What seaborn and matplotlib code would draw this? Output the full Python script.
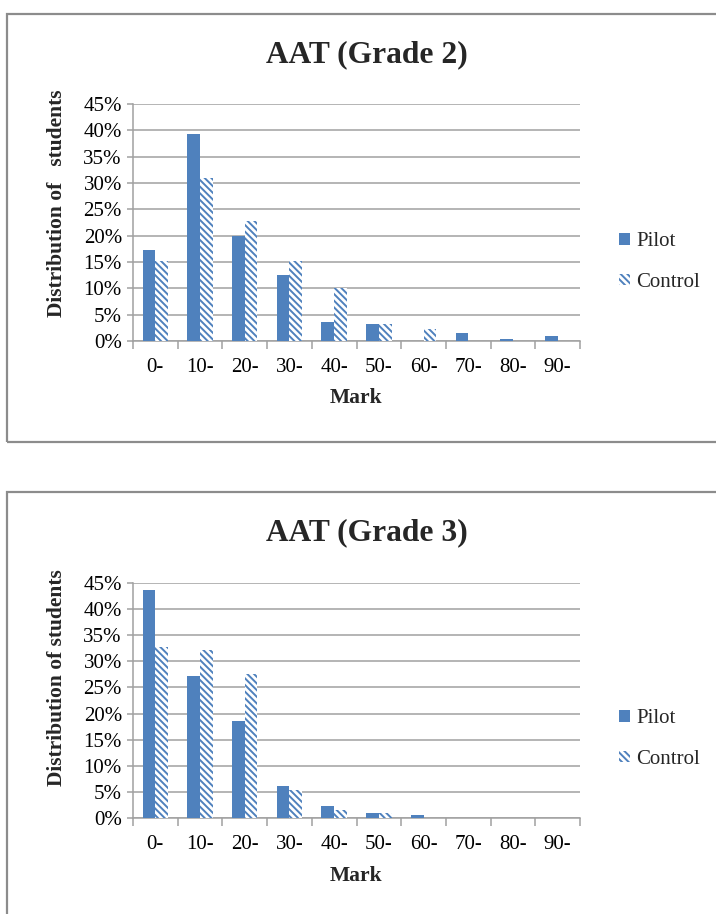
import numpy as np
import pandas as pd
import matplotlib
matplotlib.use("Agg")
import matplotlib.pyplot as plt
import seaborn as sns
from matplotlib.patches import Rectangle
from matplotlib.ticker import FuncFormatter, MultipleLocator, FixedLocator

# ---- data (percent of students) ----
marks = ["0-", "10-", "20-", "30-", "40-", "50-", "60-", "70-", "80-", "90-"]
groups = ["Pilot", "Control"]
g2_pilot = [17.3, 39.3, 20.0, 12.5, 3.7, 3.2, 0.0, 1.5, 0.45, 1.0]
g2_control = [15.1, 30.9, 22.8, 15.1, 10.0, 3.2, 2.2, 0.0, 0.0, 0.0]
g3_pilot = [43.7, 27.2, 18.6, 6.2, 2.3, 1.0, 0.6, 0.0, 0.0, 0.0]
g3_control = [32.8, 32.1, 27.5, 5.4, 1.6, 1.0, 0.0, 0.0, 0.0, 0.0]
titles = ["AAT (Grade 2)", "AAT (Grade 3)"]
ylabels = ["Distribution of   students", "Distribution of students"]
xlabel = "Mark"

BLUE = "#4F81BD"
GRID = "#A0A0A0"
SERIF = ["Liberation Serif", "DejaVu Serif"]

sns.set_theme(style="white")
plt.rcParams["font.family"] = SERIF
plt.rcParams["hatch.linewidth"] = 1.4

W, H = 716, 914
fig = plt.figure(figsize=(W / 100, H / 100), dpi=100)


def fx(px):
    return px / W


def fy(py):
    return 1 - py / H


# panel borders
for top, bottom in [(13.5, 442), (492, 930)]:
    fig.add_artist(Rectangle((fx(7.5), fy(bottom)), fx(720) - fx(7.5), fy(top) - fy(bottom),
                             transform=fig.transFigure, fill=False,
                             edgecolor="#8C8C8C", linewidth=1.6, zorder=0))

panels = [
    dict(pilot=g2_pilot, control=g2_control, top=104, bot=341, title_y=55,
         ylab_y=0.582, xlab_y=-0.24, leg_y=262),
    dict(pilot=g3_pilot, control=g3_control, top=582.7, bot=818.3, title_y=533,
         ylab_y=0.595, xlab_y=-0.245, leg_y=739),
]

for i, p in enumerate(panels):
    ax = fig.add_axes([fx(133), fy(p["bot"]), fx(580) - fx(133), fy(p["top"]) - fy(p["bot"])])
    df = pd.DataFrame({
        "Mark": marks * 2,
        "Value": list(p["pilot"]) + list(p["control"]),
        "Group": [groups[0]] * len(marks) + [groups[1]] * len(marks),
    })
    sns.barplot(data=df, x="Mark", y="Value", hue="Group", order=marks,
                hue_order=groups, palette=[BLUE, BLUE], width=0.57,
                saturation=1, legend=False, ax=ax, zorder=3)
    for patch in ax.containers[0]:
        patch.set_facecolor(BLUE)
        patch.set_edgecolor("none")
        patch.set_linewidth(0)
    for patch in ax.containers[1]:
        patch.set_facecolor("white")
        patch.set_hatch("\\\\\\\\\\")
        patch.set_edgecolor(BLUE)
        patch.set_linewidth(0)

    ax.set_ylim(0, 45)
    ax.set_xlim(-0.5, len(marks) - 0.5)
    ax.yaxis.set_major_locator(MultipleLocator(5))
    ax.yaxis.set_major_formatter(FuncFormatter(lambda v, pos: f"{v:.0f}%"))
    ax.grid(axis="y", color=GRID, linewidth=1.1, zorder=0)
    ax.set_axisbelow(True)
    for s in ["top", "right"]:
        ax.spines[s].set_visible(False)
    for s in ["left", "bottom"]:
        ax.spines[s].set_color(GRID)
        ax.spines[s].set_linewidth(1.1)

    ax.xaxis.set_minor_locator(FixedLocator(np.arange(-0.5, len(marks), 1.0)))
    ax.tick_params(axis="x", which="major", length=0, labelsize=15, pad=12, colors="black")
    ax.tick_params(axis="x", which="minor", length=6, width=1.1, color=GRID, direction="out", bottom=True)
    ax.tick_params(axis="y", which="major", length=4, width=1.1, color=GRID, direction="out",
                   labelsize=15, pad=4, left=True, labelcolor="black")

    ax.set_xlabel(xlabel, fontsize=15.5, fontweight="bold", family=SERIF)
    ax.xaxis.set_label_coords(0.5, p["xlab_y"])
    ax.xaxis.label.set_va("center")
    ax.set_ylabel(ylabels[i], fontsize=15.5, fontweight="bold", family=SERIF)
    ax.yaxis.set_label_coords(-0.17, p["ylab_y"])
    ax.yaxis.label.set_va("center")

    fig.text(fx(367), fy(p["title_y"]), titles[i], fontsize=22.7, fontweight="bold",
             ha="center", va="center", family=SERIF)

    handles = [ax.containers[0][0], ax.containers[1][0]]
    ax.legend(handles, groups, loc="center left",
              bbox_to_anchor=(fx(611), fy(p["leg_y"])), bbox_transform=fig.transFigure,
              frameon=False, prop={"family": "Liberation Serif", "size": 15},
              handlelength=0.5, handleheight=0.5,
              handletextpad=0.3, labelspacing=1.05, borderaxespad=0)

fig.savefig("out.png", dpi=100)
